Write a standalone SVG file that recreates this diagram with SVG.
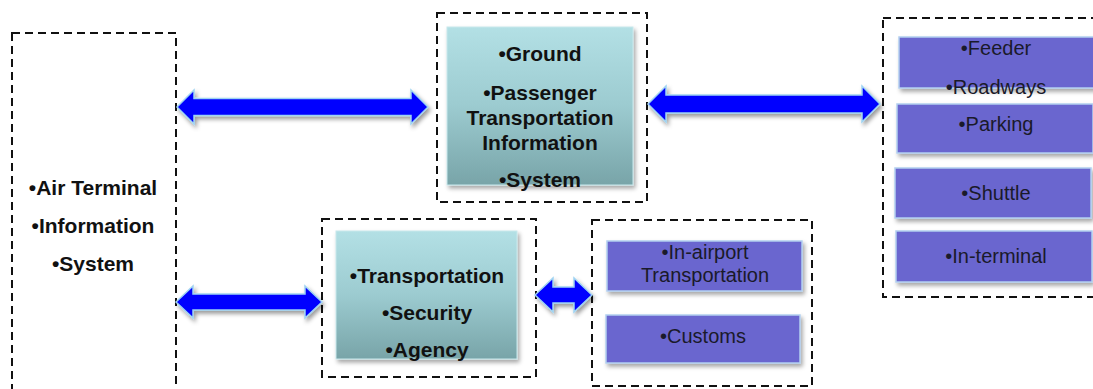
<svg xmlns="http://www.w3.org/2000/svg" width="1093" height="389" viewBox="0 0 1093 389">
  <defs>
    <linearGradient id="tealGrad" x1="0" y1="0" x2="0" y2="1">
      <stop offset="0" stop-color="#b3e0e5"/>
      <stop offset="0.5" stop-color="#9ccbd0"/>
      <stop offset="1" stop-color="#78a4a8"/>
    </linearGradient>
    <filter id="shadow" x="-10%" y="-10%" width="125%" height="130%">
      <feDropShadow dx="2" dy="3" stdDeviation="2" flood-color="#000" flood-opacity="0.35"/>
    </filter>
    <filter id="arrowShadow" x="-10%" y="-40%" width="125%" height="190%">
      <feDropShadow dx="2" dy="3" stdDeviation="2" flood-color="#000" flood-opacity="0.4"/>
    </filter>
    <style>
      .frame { fill: none; stroke: #111; stroke-width: 2; stroke-dasharray: 8 5; }
      .teal { fill: url(#tealGrad); stroke: #c8e8ec; stroke-width: 1; filter: url(#shadow); }
      .purple { fill: #6a66cf; stroke: #b3d0f0; stroke-width: 1.5; filter: url(#shadow); }
      .arrow { fill: #0000ff; stroke: #9fd3f2; stroke-width: 1.5; stroke-linejoin: miter; filter: url(#arrowShadow); }
      .bold { font-family: "Liberation Sans", Arial, sans-serif; font-weight: bold; font-size: 21px; fill: #111; text-anchor: middle; }
      .reg { font-family: "Liberation Sans", Arial, sans-serif; font-size: 20px; fill: #1a1a2a; text-anchor: middle; }
    </style>
  </defs>

  <rect width="1093" height="389" fill="#fff"/>

  <!-- Air terminal information system -->
  <g id="air-terminal">
    <rect class="frame" x="12" y="33" width="164" height="360"/>
    <text class="bold" x="93" y="195">•Air Terminal</text>
    <text class="bold" x="93" y="233">•Information</text>
    <text class="bold" x="93" y="271">•System</text>
  </g>

  <!-- Ground passenger transportation information system -->
  <g id="ground-info">
    <rect class="frame" x="437" y="13" width="210" height="189"/>
    <rect class="teal" x="447" y="27" width="186" height="158"/>
    <text class="bold" x="540" y="61">•Ground</text>
    <text class="bold" x="540" y="100">•Passenger</text>
    <text class="bold" x="540" y="125">Transportation</text>
    <text class="bold" x="540" y="150">Information</text>
    <text class="bold" x="540" y="187">•System</text>
  </g>

  <!-- Ground transport modes -->
  <g id="ground-modes">
    <rect class="frame" x="883" y="18" width="220" height="279"/>
    <rect class="purple" x="899" y="37" width="196" height="51"/>
    <rect class="purple" x="897" y="104" width="196" height="49"/>
    <rect class="purple" x="895" y="168" width="196" height="50"/>
    <rect class="purple" x="896" y="231" width="196" height="51"/>
    <text class="reg" x="996" y="55">•Feeder</text>
    <text class="reg" x="996" y="94">•Roadways</text>
    <text class="reg" x="996" y="131">•Parking</text>
    <text class="reg" x="996" y="200">•Shuttle</text>
    <text class="reg" x="996" y="263">•In-terminal</text>
  </g>

  <!-- Transportation security agency -->
  <g id="security-agency">
    <rect class="frame" x="322" y="219" width="214" height="158"/>
    <rect class="teal" x="336" y="231" width="181" height="128"/>
    <text class="bold" x="427" y="283">•Transportation</text>
    <text class="bold" x="427" y="320">•Security</text>
    <text class="bold" x="427" y="357">•Agency</text>
  </g>

  <!-- In-airport services -->
  <g id="in-airport">
    <rect class="frame" x="592" y="220" width="220" height="166"/>
    <rect class="purple" x="607" y="241" width="195" height="50"/>
    <rect class="purple" x="606" y="315" width="194" height="48"/>
    <text class="reg" x="705" y="259">•In-airport</text>
    <text class="reg" x="705" y="282">Transportation</text>
    <text class="reg" x="703" y="343">•Customs</text>
  </g>

  <!-- Double-headed connectors -->
  <g id="connectors">
    <path class="arrow" d="M177,107 L194,90 L194,98.5 L411,98.5 L411,90 L428,107 L411,124 L411,115.5 L194,115.5 L194,124 Z"/>
    <path class="arrow" d="M648,104 L666,86 L666,95 L862,95 L862,86 L880,104 L862,122 L862,113 L666,113 L666,122 Z"/>
    <path class="arrow" d="M176,302 L193,286 L193,294 L305,294 L305,286 L322,302 L305,318 L305,310 L193,310 L193,318 Z"/>
    <path class="arrow" d="M535,295 L553,278 L553,287 L574,287 L574,278 L592,295 L574,312 L574,303 L553,303 L553,312 Z"/>
  </g>
</svg>
